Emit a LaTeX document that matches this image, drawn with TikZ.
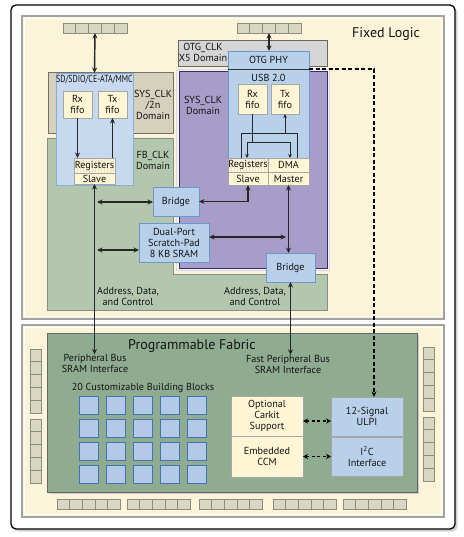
\documentclass[tikz,border=0pt]{standalone}
\usepackage{fontspec}
\setmainfont{PT Sans}
\usetikzlibrary{arrows.meta}
\definecolor{panelY}{HTML}{FBF4D9}
\definecolor{panelB}{HTML}{A3A3A3}
\definecolor{fbgreen}{HTML}{B2C7AE}
\definecolor{fabgreen}{HTML}{8FAC91}
\definecolor{tanbox}{HTML}{D6D1BD}
\definecolor{purp}{HTML}{A79DC8}
\definecolor{navy}{HTML}{2E2E7E}
\definecolor{greybox}{HTML}{D5D5D5}
\definecolor{blueF}{HTML}{B9D0EA}
\definecolor{blueD}{HTML}{6A98CE}
\definecolor{creamF}{HTML}{FDF5D3}
\definecolor{pinF}{HTML}{D9D6C1}
\definecolor{pinD}{HTML}{8C8C80}
\definecolor{blkF}{HTML}{B3CAE7}
\definecolor{blkD}{HTML}{3E74B8}
\definecolor{txt}{HTML}{141414}
\begin{document}
\begin{tikzpicture}[x=1pt,y=-1pt,
  every node/.style={font=\fontsize{10.2}{11}\selectfont, text=txt, inner sep=0pt, outer sep=0pt},
  bluebox/.style={draw=blueD, fill=blueF, line width=0.9pt, align=center},
  creambox/.style={draw=gray!70, fill=creamF, line width=0.7pt, align=center},
  regcell/.style={creambox, path picture={\foreach \k in {1,...,13}{\draw[brown!25, line width=0.4pt] ([xshift=\k*3pt]path picture bounding box.north west) -- ([xshift=\k*3pt]path picture bounding box.south west);}}},
  pinbox/.style={draw=pinD, fill=pinF, line width=0.8pt},
  blkbox/.style={draw=blkD, fill=blkF, line width=1pt},
  lbl/.style={align=center},
  thk/.style={line width=1.4pt, draw=black!85},
  thn/.style={line width=0.8pt, draw=black!85},
  >={Stealth[length=5.5pt,width=5pt]}
]
\useasboundingbox (0,0) rectangle (463,537);
\fill[white] (0,0) rectangle (463,537);
% outer frame
\fill[gray!35, rounded corners=5pt] (13.5,7.5) rectangle (457.5,531.5);
\draw[line width=1.3pt, rounded corners=5pt, fill=white] (11,5) rectangle (455,529);
% panels
\draw[fill=panelY, draw=panelB, line width=1.2pt] (22,16) rectangle (444,319);
\draw[white, line width=0.8pt] (24.5,18.5) rectangle (441.5,316.5);
\draw[fill=panelY, draw=panelB, line width=1.2pt] (22,325) rectangle (444,517);
\draw[white, line width=0.8pt] (24.5,327.5) rectangle (441.5,514.5);

% ---------- Fixed logic ----------
\node[lbl, font=\fontsize{14}{16}\selectfont] (fixed) at (386,34) {Fixed Logic};

% top pins
\foreach \i in {1,...,5}{
  \node[pinbox, minimum width=12.8pt, minimum height=10pt] (pinL\i) at ({69.4+(\i-1)*12.8},28) {};
  \node[pinbox, minimum width=12.8pt, minimum height=10pt] (pinR\i) at ({243.4+(\i-1)*12.8},28) {};
}

% domains
\draw[fill=tanbox, draw=gray!60!tanbox!70!black, line width=0.8pt] (48,72) rectangle (173,133);
\draw[fill=fbgreen, draw=gray!70!black!70, line width=0.8pt]
  (47,138) -- (173,138) -- (173,274) -- (327,274) -- (327,310) -- (47,310) -- cycle;
\draw[white!60!purp, line width=1.5pt] (176.5,69.5) rectangle (329.5,270.5);
\draw[fill=purp, draw=navy, line width=1pt] (179,72) rectangle (327,268);
\draw[fill=greybox, draw=gray!80!black, line width=0.9pt] (178,40) rectangle (327,66);

\node[lbl] (sys2n) at (153,105) {SYS\_CLK\\/2n\\Domain};
\node[lbl] (fbclk) at (153,160) {FB\_CLK\\Domain};
\node[lbl] (sysclk) at (203,105) {SYS\_CLK\\Domain};
\node[lbl] (otgclk) at (203,52.5) {OTG\_CLK\\X5 Domain};

% SD block
\node[bluebox, draw=blueD!80, fill=blueF!80!white, minimum width=77pt, minimum height=112pt] (sd) at (94.5,129) {};
\node[anchor=north] (sdlbl) at (94.5,75) {\scalebox{0.78}[1]{SD/SDIO/CE-ATA/MMC}};
\node[creambox, minimum width=29pt, minimum height=27pt] (sdRx) at (77.5,104.5) {Rx\\fifo};
\node[creambox, minimum width=29pt, minimum height=27pt] (sdTx) at (112.5,104.5) {Tx\\fifo};
\node[regcell, minimum width=41pt, minimum height=15pt] (sdReg) at (94.5,165.5) {Registers};
\node[creambox, minimum width=41pt, minimum height=11pt] (sdSlave) at (94.5,178.5) {Slave};

% USB / OTG PHY block
\node[bluebox, minimum width=81pt, minimum height=134pt] (usb) at (268.5,118) {};
\draw[line width=0.8pt, black!80] (usb.north west |- 0,69) coordinate (phyL) -- (usb.north east |- 0,69) coordinate (phyR);
\node[lbl] (phy) at (268.5,60) {OTG PHY};
\node[lbl] (usb20) at (268.5,78) {USB 2.0};
\node[creambox, minimum width=29pt, minimum height=30pt] (usbRx) at (252.5,99) {Rx\\fifo};
\node[creambox, minimum width=28pt, minimum height=30pt] (usbTx) at (285,99) {Tx\\fifo};
\node[regcell, minimum width=40pt, minimum height=14pt] (usbReg) at (248,165) {Registers};
\node[creambox, minimum width=41pt, minimum height=14pt] (usbDMA) at (288.5,165) {DMA};
\node[creambox, minimum width=40pt, minimum height=13pt] (usbSlave) at (248,178.5) {Slave};
\node[creambox, minimum width=41pt, minimum height=13pt] (usbMaster) at (288.5,178.5) {Master};

% bridges and SRAM
\node[bluebox, minimum width=46pt, minimum height=29pt] (br1) at (176,201.5) {Bridge};
\node[bluebox, minimum width=70pt, minimum height=39pt] (sram) at (174,242.5) {Dual-Port\\Scratch-Pad\\8 KB SRAM};
\node[bluebox, minimum width=49pt, minimum height=29pt] (br2) at (290.5,267.5) {Bridge};

\node[lbl] (adcL) at (128,296.5) {Address, Data,\\and Control};
\node[lbl] (adcR) at (255,296.5) {Address, Data,\\and Control};

% ---------- Programmable fabric ----------
\fill[black!20] (48.5,334.5) rectangle (418.5,493.5);
\draw[fill=fabgreen, draw=black!60, line width=0.9pt] (47,333) rectangle (417,492);
\node[lbl, font=\fontsize{14}{16}\selectfont] (fabric) at (192,346) {Programmable Fabric};
\node[lbl] (pbtext) at (95,363.5) {Peripheral Bus\\SRAM Interface};
\node[lbl] (fptext) at (288,364) {Fast Peripheral Bus\\SRAM Interface};
\node[lbl] (cbb) at (143,388) {20 Customizable Building Blocks};
\foreach \c in {0,...,4}{
  \foreach \r in {0,...,3}{
    \node[blkbox, minimum width=19pt, minimum height=18pt] (blk\c\r) at ({88.5+\c*27.2},{405+\r*23.3}) {};
  }
}
\node[creambox, minimum width=72pt, minimum height=40pt] (carkit) at (267,416) {Optional\\Carkit\\Support};
\node[creambox, minimum width=72pt, minimum height=41pt] (ccm) at (267,456.5) {Embedded\\CCM};
\node[bluebox, draw=gray!70, minimum width=72pt, minimum height=39pt] (ulpi) at (367,416.5) {12-Signal\\ULPI};
\node[bluebox, draw=gray!70, minimum width=72pt, minimum height=39pt] (i2c) at (367,456.5) {I\textsuperscript{2}C\\Interface};

% side pins
\foreach \i in {0,...,4}{
  \node[pinbox, minimum width=11pt, minimum height=12.8pt] (pl\i) at (35.5,{355.4+\i*12.8}) {};
  \node[pinbox, minimum width=11pt, minimum height=12.8pt] (plb\i) at (35.5,{425.4+\i*12.8}) {};
  \node[pinbox, minimum width=11pt, minimum height=12.8pt] (pr\i) at (428.5,{353.4+\i*12.8}) {};
  \node[pinbox, minimum width=11pt, minimum height=12.8pt] (prb\i) at (428.5,{423.4+\i*12.8}) {};
}
\foreach \g/\x in {a/57,b/127,c/199,d/273,e/343}{
  \foreach \i in {0,...,4}{
    \node[pinbox, minimum width=12.7pt, minimum height=10pt] (pb\g\i) at ({\x+6.35+\i*12.7},504) {};
  }
}

% ---------- connectors ----------
\draw[thk,<->] (pinL3.south) -- (sd.north);
\draw[thk,<->] (pinR3.south) -- (usb.north -| pinR3.south);
\draw[thk,->] (sdRx.south) -- (sdRx.south |- sdReg.north);
\draw[thk,->] (sdTx.south |- sdReg.north) -- (sdTx.south);
\draw[thk,<->] (sdSlave.south) -- (pbtext.north -| sdSlave.south);
\coordinate (busA) at (97,202);
\coordinate (busB) at (97,250);
\draw[thk,<->] (busA) -- (br1.west |- busA);
\draw[thk,<->] (busB) -- (sram.west |- busB);
\draw[thk,<->] (br1.east) -| (usbSlave.south);
\coordinate (sramR) at (286,237);
\draw[thk,<->] (sram.east |- sramR) -- (sramR);
\draw[thk,<->] (usbMaster.south) -- (usbMaster.south |- br2.north);
\draw[thk,<->] (br2.south) -- (br2.south |- fptext.north);

% USB inner wires
\coordinate (rxSplit) at (252.5,142);
\coordinate (rxL) at (247,142);
\coordinate (rxR) at (290,142);
\coordinate (txL) at (241,133);
\coordinate (txR) at (297,133);
\coordinate (txJ) at (285,133);
\draw[thn] (usbRx.south) -- (rxSplit);
\draw[thn] (rxL) -- (rxR);
\draw[thn,-{Stealth[length=4pt,width=3.6pt]}] (rxL) -- (rxL |- usbReg.north);
\draw[thn,-{Stealth[length=4pt,width=3.6pt]}] (rxR) -- (rxR |- usbDMA.north);
\draw[thn] (txL |- usbReg.north) -- (txL) -- (txR) -- (txR |- usbDMA.north);
\draw[thn,-{Stealth[length=4pt,width=3.6pt]}] (txJ) -- (usbTx.south);

% dashed ULPI link
\coordinate (dashTurn) at (374,69);
\draw[line width=1.5pt, dash pattern=on 4pt off 2.5pt, -{Stealth[length=5.5pt,width=5pt]}] (phyR) -- (dashTurn) -- (dashTurn |- ulpi.north);
\draw[line width=1.4pt, dash pattern=on 3pt off 2.5pt, {Stealth[length=5pt,width=5pt]}-{Stealth[length=5pt,width=5pt]}] ([yshift=-5pt]carkit.east) -- ([yshift=-5pt]carkit.east -| ulpi.west);
\draw[line width=1.4pt, dash pattern=on 3pt off 2.5pt, {Stealth[length=5pt,width=5pt]}-{Stealth[length=5pt,width=5pt]}] (ccm.east) -- (i2c.west);
\end{tikzpicture}
\end{document}
